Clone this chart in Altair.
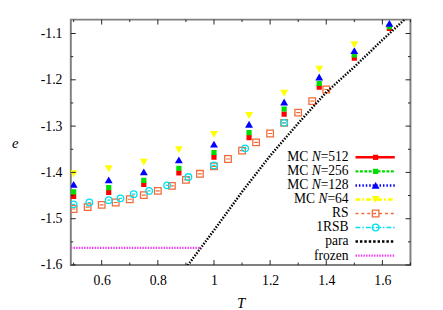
import altair as alt
import pandas as pd

# ---------------- data ----------------
T_mc = [0.5, 0.625, 0.75, 0.875, 1.0, 1.125, 1.25, 1.375, 1.5, 1.625]
e_mc512 = [-1.452, -1.443, -1.426, -1.401, -1.367, -1.325, -1.274, -1.216, -1.153, -1.089]
e_mc256 = [-1.442, -1.433, -1.417, -1.391, -1.357, -1.314, -1.263, -1.208, -1.146, -1.085]
e_mc128 = [-1.426, -1.416, -1.399, -1.373, -1.339, -1.296, -1.248, -1.194, -1.137, -1.078]
T_mc64 = [0.5, 0.625, 0.75, 0.875, 1.0, 1.125, 1.25, 1.375, 1.5]
e_mc64 = [-1.403, -1.392, -1.378, -1.351, -1.318, -1.277, -1.229, -1.177, -1.124]

T_rs = [0.5, 0.55, 0.6, 0.65, 0.7, 0.75, 0.8, 0.85, 0.9, 0.95, 1.0, 1.05, 1.1, 1.15,
        1.2, 1.25, 1.3, 1.35, 1.4]
e_rs = [-1.479, -1.475, -1.470, -1.465, -1.458, -1.449, -1.440, -1.429, -1.416, -1.403,
        -1.387, -1.371, -1.353, -1.335, -1.316, -1.293, -1.271, -1.246, -1.221]

T_1rsb = [0.5, 0.556, 0.625, 0.667, 0.714, 0.769, 0.833, 0.909, 1.0, 1.111, 1.25]
e_1rsb = [-1.469, -1.465, -1.460, -1.456, -1.447, -1.440, -1.428, -1.410, -1.385, -1.348, -1.293]

T_para = [0.9, 1.0, 1.1, 1.2, 1.3, 1.4, 1.5, 1.6, 1.7]
e_para = [-1.606, -1.525, -1.442, -1.364, -1.294, -1.227, -1.172, -1.114, -1.058]

T_frozen = [0.49, 0.954]
e_frozen = [-1.563, -1.563]

x_major = [0.6, 0.8, 1.0, 1.2, 1.4, 1.6]
x_minor = [0.5, 0.7, 0.9, 1.1, 1.3, 1.5, 1.7]
y_major = [-1.6, -1.5, -1.4, -1.3, -1.2, -1.1]
y_minor = [-1.55, -1.45, -1.35, -1.25, -1.15]

x_domain = [0.49, 1.7]
y_domain = [-1.6, -1.07]

legend_names = ["MC N=512", "MC N=256", "MC N=128", "MC N=64", "RS", "1RSB", "para", "frozen"]

# ---------------- styling ----------------
W, H = 346, 250
FONT = "'Liberation Serif', 'Times New Roman', 'DejaVu Serif', serif"
FS = 14        # axis labels
LFS = 13.8     # legend labels

C_RED = "#ff0000"
C_GREEN = "#00dd00"
C_BLUE = "#0000ff"
C_YEL = "#ffff00"
C_ORG = "#f26b38"
C_CYAN = "#00e0ee"
C_BLK = "#000000"
C_MAG = "#f040f0"

xscale = alt.Scale(domain=x_domain, nice=False, zero=False)
yscale = alt.Scale(domain=y_domain, nice=False, zero=False)

xaxis = alt.Axis(values=x_major, ticks=False, tickSize=0, domain=False, grid=False,
                 labelExpr="format(datum.value, '~g')", labelFont=FONT, labelFontSize=FS,
                 labelColor="#000", labelPadding=9, title="T", titleFont=FONT,
                 titleFontSize=FS + 1, titleFontStyle="italic", titleFontWeight="normal",
                 titleColor="#000", titlePadding=8)
yaxis = alt.Axis(values=y_major, ticks=False, tickSize=0, domain=False, grid=False,
                 labelExpr="replace(format(datum.value, '.1f'), '\u2212', '-')",
                 labelFont=FONT, labelFontSize=FS, labelColor="#000", labelPadding=9,
                 title="e", titleFont=FONT, titleFontSize=FS + 1, titleFontStyle="italic",
                 titleFontWeight="normal", titleColor="#000", titleAngle=0,
                 titleX=-57, titleY=125, titleAlign="center", titleBaseline="middle")

X = alt.X("T:Q", scale=xscale, axis=xaxis)
Y = alt.Y("e:Q", scale=yscale, axis=yaxis)


def df(t, e):
    return pd.DataFrame({"T": t, "e": e})


layers = []

# MC series
layers.append(alt.Chart(df(T_mc, e_mc512)).mark_point(
    shape="square", filled=True, size=28, color=C_RED, opacity=1, clip=True).encode(x=X, y=Y))
layers.append(alt.Chart(df(T_mc, e_mc256)).mark_point(
    shape="square", filled=True, size=28, color=C_GREEN, opacity=1, clip=True).encode(x=X, y=Y))
layers.append(alt.Chart(df(T_mc, e_mc128)).mark_point(
    shape="triangle-up", filled=True, size=65, color=C_BLUE, opacity=1, clip=True).encode(x=X, y=Y))
layers.append(alt.Chart(df(T_mc64, e_mc64)).mark_point(
    shape="triangle-down", filled=True, size=65, color=C_YEL, opacity=1, clip=True).encode(x=X, y=Y))

# RS
layers.append(alt.Chart(df(T_rs, e_rs)).mark_point(
    shape="square", filled=False, size=45, color=C_ORG, strokeWidth=1.3, opacity=1, clip=True).encode(x=X, y=Y))
layers.append(alt.Chart(df(T_rs, e_rs)).mark_point(
    shape="stroke", filled=False, size=16, color=C_ORG, strokeWidth=1.2, opacity=1, clip=True).encode(x=X, y=Y))

# 1RSB
layers.append(alt.Chart(df(T_1rsb, e_1rsb)).mark_point(
    shape="circle", filled=False, size=45, color=C_CYAN, strokeWidth=1.3, opacity=1, clip=True).encode(x=X, y=Y))
layers.append(alt.Chart(df(T_1rsb, e_1rsb)).mark_point(
    shape="stroke", filled=False, size=10, color=C_CYAN, strokeWidth=1.2, opacity=1, clip=True).encode(x=X, y=Y))

# para & frozen
layers.append(alt.Chart(df(T_para, e_para)).mark_line(
    color=C_BLK, strokeWidth=2.5, strokeDash=[1.5, 1.5], clip=True).encode(x=X, y=Y))
layers.append(alt.Chart(df(T_frozen, e_frozen)).mark_line(
    color=C_MAG, strokeWidth=2.2, strokeDash=[1.5, 1.2], clip=True).encode(x=X, y=Y))

# inward ticks (bottom / top / left / right)
TICKC = "#222222"
for vals, ln in ((x_major, 5), (x_minor, 2.5)):
    d = pd.DataFrame({"T": vals})
    layers.append(alt.Chart(d).mark_rule(color=TICKC, strokeWidth=1).encode(
        x=X, y=alt.value(H), y2=alt.value(H - ln)))
    layers.append(alt.Chart(d).mark_rule(color=TICKC, strokeWidth=1).encode(
        x=X, y=alt.value(0), y2=alt.value(ln)))
for vals, ln in ((y_major, 5), (y_minor, 2.5)):
    d = pd.DataFrame({"e": vals})
    layers.append(alt.Chart(d).mark_rule(color=TICKC, strokeWidth=1).encode(
        y=Y, x=alt.value(0), x2=alt.value(ln)))
    layers.append(alt.Chart(d).mark_rule(color=TICKC, strokeWidth=1).encode(
        y=Y, x=alt.value(W), x2=alt.value(W - ln)))

# ---------------- legend (inside, bottom right) ----------------
TX = 283        # right edge of label text
L0, L1 = 290, 330
MX = 310.5
ROW0, STEP = 140.3, 14.3
styles = [
    dict(color=C_RED, dash=None, sw=2.5, shape="square", filled=True, size=28),
    dict(color=C_GREEN, dash=[3, 1.5], sw=2.5, shape="square", filled=True, size=28),
    dict(color=C_BLUE, dash=[1.5, 2], sw=2.5, shape="triangle-up", filled=True, size=65),
    dict(color=C_YEL, dash=[5, 2, 2, 2], sw=2.5, shape="triangle-down", filled=True, size=65),
    dict(color=C_ORG, dash=[3, 3], sw=1.5, shape="square", filled=False, size=45),
    dict(color=C_CYAN, dash=[5, 2, 1.5, 2], sw=1.5, shape="circle", filled=False, size=45),
    dict(color=C_BLK, dash=[2.5, 2], sw=2.5, shape=None, filled=False, size=0),
    dict(color=C_MAG, dash=[1.5, 1.2], sw=2.2, shape=None, filled=False, size=0),
]
one = pd.DataFrame({"k": [0]})
for i, (name, st) in enumerate(zip(legend_names, styles)):
    yy = ROW0 + i * STEP
    line_kw = dict(color=st["color"], strokeWidth=st["sw"])
    if st["dash"]:
        line_kw["strokeDash"] = st["dash"]
    layers.append(alt.Chart(one).mark_rule(**line_kw).encode(
        x=alt.value(L0), x2=alt.value(L1), y=alt.value(yy)))
    if st["shape"]:
        layers.append(alt.Chart(one).mark_point(
            shape=st["shape"], filled=st["filled"], size=st["size"], color=st["color"],
            strokeWidth=1.3, opacity=1).encode(x=alt.value(MX), y=alt.value(yy)))
    if name.startswith("MC N="):
        num = "=" + name.split("=")[1]
        wnum = LFS * (0.564 + 0.5 * (len(num) - 1))
        layers.append(alt.Chart(one).mark_text(
            text=num, align="right", baseline="middle", font=FONT, fontSize=LFS, color="#000").encode(
            x=alt.value(TX), y=alt.value(yy)))
        layers.append(alt.Chart(one).mark_text(
            text="N", align="right", baseline="middle", font=FONT, fontSize=LFS, fontStyle="italic",
            color="#000").encode(x=alt.value(TX - wnum), y=alt.value(yy)))
        layers.append(alt.Chart(one).mark_text(
            text="MC", align="right", baseline="middle", font=FONT, fontSize=LFS, color="#000").encode(
            x=alt.value(TX - wnum - LFS * 0.667 - LFS * 0.25), y=alt.value(yy)))
    else:
        layers.append(alt.Chart(one).mark_text(
            text=name, align="right", baseline="middle", font=FONT, fontSize=LFS, color="#000").encode(
            x=alt.value(TX), y=alt.value(yy)))

chart = alt.layer(*layers).properties(
    width=W, height=H,
    autosize=alt.AutoSizeParams(type="none"),
    padding={"left": 64, "top": 9, "right": 25, "bottom": 43},
    background="white",
).configure_view(stroke="#808080", strokeWidth=2)

chart.save("out.html", embed_options={"renderer": "svg", "actions": False})
